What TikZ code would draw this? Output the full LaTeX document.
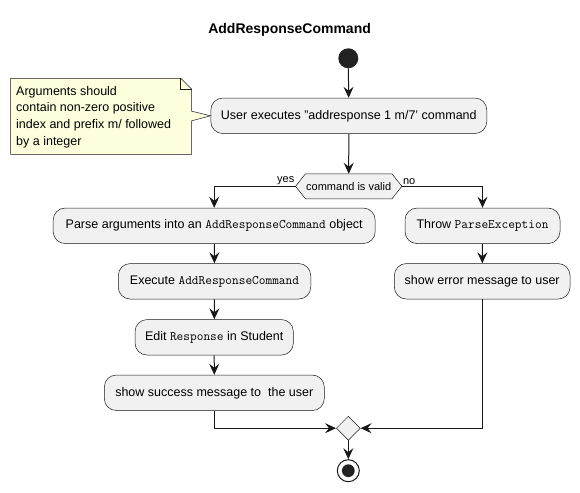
\documentclass[tikz,border=0pt]{standalone}
\usepackage{fontspec}
\setmainfont{Liberation Sans}
\usetikzlibrary{arrows.meta,shapes.geometric,calc,backgrounds}
\definecolor{actfill}{HTML}{F1F1F1}
\definecolor{lineclr}{HTML}{181818}
\definecolor{notefill}{HTML}{FEFFDD}
\definecolor{startfill}{HTML}{222222}
\newcommand{\codetxt}[1]{{\fontsize{13}{15}\selectfont\ttfamily #1}}
\begin{document}
\begin{tikzpicture}[x=1pt,y=-1pt,
  act/.style={draw=lineclr, line width=0.5pt, fill=actfill, rounded corners=12pt, inner sep=0pt, minimum height=35.5pt, font=\fontsize{12.5}{15}\selectfont},
  flow/.style={draw=lineclr, line width=1pt, -{Stealth[length=11pt,width=10pt,inset=4pt]}},
  lbl/.style={font=\fontsize{11}{13}\selectfont, inner sep=1pt}
]
\useasboundingbox (0,0) rectangle (580,492);

\node[font=\fontsize{14}{16}\selectfont\bfseries] (title) at (289.6,30) {AddResponseCommand};

\node[circle, fill=startfill, minimum size=20pt, inner sep=0pt] (start) at (348.3,58.3) {};

\node[act, minimum width=276pt] (user) at (348.8,115.8) {User executes "addresponse 1 m/7' command};

\node[minimum width=106pt, minimum height=24.7pt, inner sep=0pt, font=\fontsize{11}{13}\selectfont] (dec) at (348.7,186.3) {command is valid};
\begin{scope}[on background layer]
\draw[draw=lineclr, line width=0.5pt, fill=actfill]
  (dec.west) -- ($(dec.north west)+(10pt,0pt)$) -- ($(dec.north east)+(-10pt,0pt)$) -- (dec.east)
  -- ($(dec.south east)+(-10pt,0pt)$) -- ($(dec.south west)+(10pt,0pt)$) -- cycle;
\end{scope}

\node[act, minimum width=322pt] (parse) at (214.2,225.8) {Parse arguments into an \codetxt{AddResponseCommand} object};
\node[act, minimum width=155pt] (throw) at (482.5,225.8) {Throw \codetxt{ParseException}};
\node[act, minimum width=192.5pt] (exec) at (214.5,281.3) {Execute \codetxt{AddResponseCommand}};
\node[act, minimum width=175.7pt] (err) at (482.2,281.3) {show error message to user};
\node[act, minimum width=158.3pt] (edit) at (214.2,337.3) {Edit \codetxt{Response} in Student};
\node[act, minimum width=220pt] (succ) at (214.3,392.8) {show success message to\ \ the user};

\node[diamond, draw=lineclr, line width=0.5pt, fill=actfill, minimum size=24pt, inner sep=0pt] (merge) at (348.3,428.2) {};
\node[circle, draw=lineclr, line width=1pt, fill=white, minimum size=22pt, inner sep=0pt] (stop) at (348.3,470.7) {};
\fill[startfill] (stop.center) circle (6.4pt);

% note
\coordinate (ntl) at (10.7,78.3);
\coordinate (nbr) at (191.7,154.3);
\draw[draw=lineclr, line width=0.5pt, fill=notefill]
  (ntl) -- (180.7,78.3) -- (191.7,89.3) -- (191.7,111.2) -- (user.west) -- (191.7,120.8) -- (nbr) -- (10.7,154.3) -- cycle;
\draw[draw=lineclr, line width=0.5pt] (180.7,78.3) -- (180.7,89.3) -- (191.7,89.3);
\node[anchor=west, align=left, inner sep=0pt, font=\fontsize{12.5}{16.6}\selectfont] (notetext) at (16,117) {Arguments should\\contain non-zero positive\\index and prefix m/ followed\\by a integer};

% connectors
\draw[flow] (start) -- (user);
\draw[flow] (user) -- (dec);
\draw[flow] (dec.west) -| (parse.north);
\draw[flow] (dec.east) -| (throw.north);
\node[lbl, anchor=south east] (yes) at (dec.west) {yes};
\node[lbl, anchor=south west] (no) at (dec.east) {no};
\draw[flow] (parse) -- (exec);
\draw[flow] (exec) -- (edit);
\draw[flow] (edit) -- (succ);
\draw[flow] (throw) -- (err);
\draw[flow] (succ.south) |- (merge.west);
\draw[flow] (err.south) |- (merge.east);
\draw[flow] (merge) -- (stop);
\end{tikzpicture}
\end{document}
